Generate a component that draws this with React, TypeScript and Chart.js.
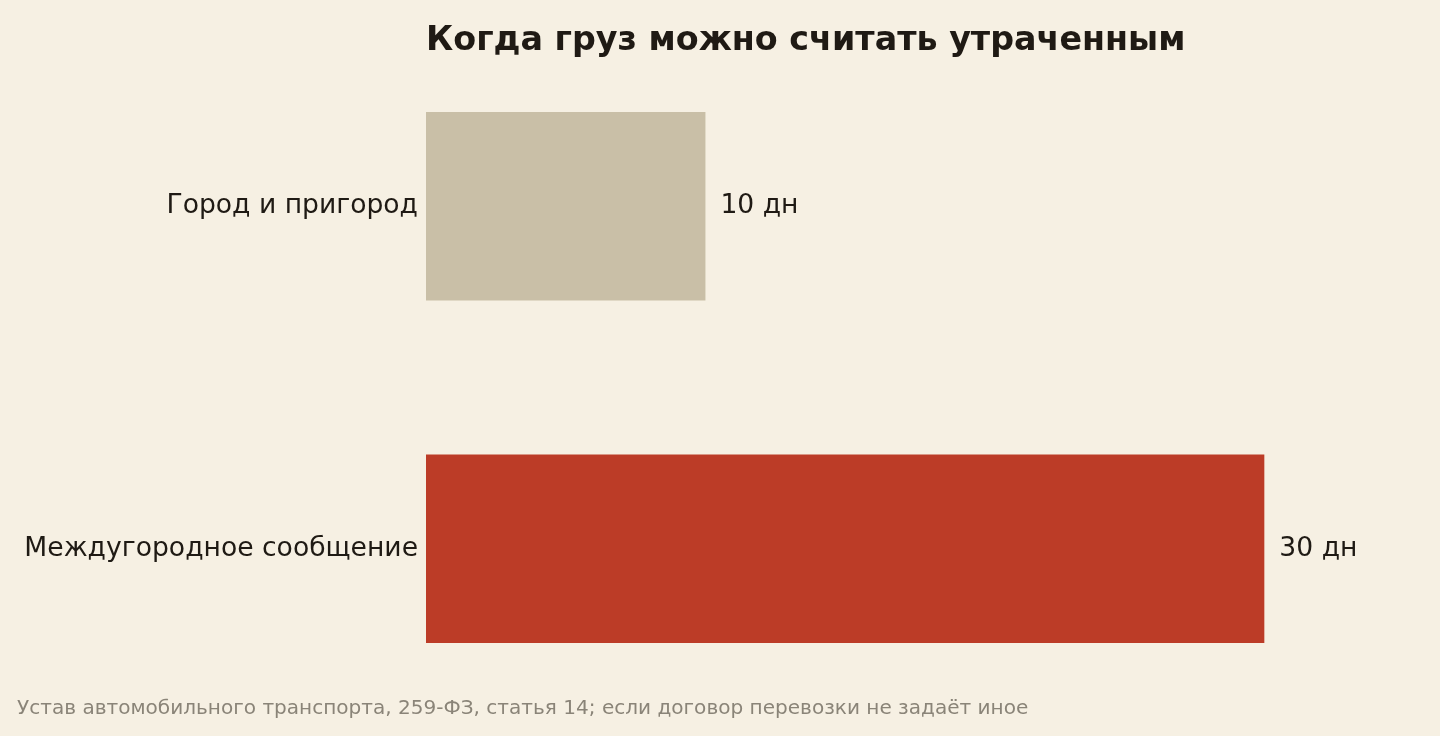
import React, { useEffect, useRef } from "react";
import { Chart, registerables } from "chart.js";

Chart.register(...registerables);

const categories = ["Город и пригород", "Междугородное сообщение"];
const days = [10, 30];
const valueLabels = ["10 дн", "30 дн"];
const barColors = ["#c9bfa7", "#bc3c27"];
const title = "Когда груз можно считать утраченным";
const footnote = "Устав автомобильного транспорта, 259-ФЗ, статья 14; если договор перевозки не задаёт иное";

const FONT = "'DejaVu Sans', sans-serif";
const BG = "#f6f0e3";

const valueLabelPlugin = {
  id: "valueLabels",
  afterDatasetsDraw(chart: any) {
    const ctx = chart.ctx;
    const meta = chart.getDatasetMeta(0);
    ctx.save();
    ctx.font = `26.6px ${FONT}`;
    ctx.fillStyle = "#1f1a14";
    ctx.textAlign = "left";
    ctx.textBaseline = "middle";
    meta.data.forEach((bar: any, i: number) => {
      ctx.fillText(valueLabels[i], bar.x + 15, bar.y);
    });
    ctx.restore();
  },
};

export default function App() {
  const ref = useRef<HTMLCanvasElement>(null);
  useEffect(() => {
    if (!ref.current) return;
    const chart = new Chart(ref.current, {
      type: "bar",
      data: {
        labels: categories,
        datasets: [
          {
            data: days,
            backgroundColor: barColors,
            borderWidth: 0,
            categoryPercentage: 1,
            barPercentage: 0.55,
          },
        ],
      },
      options: {
        indexAxis: "y",
        animation: false,
        responsive: false,
        devicePixelRatio: 1,
        layout: { padding: { top: 35, bottom: 13.5, left: 0, right: 8 } },
        plugins: {
          legend: { display: false },
          tooltip: { enabled: false },
        },
        scales: {
          x: { display: false, min: 0, max: 36 },
          y: {
            grid: { display: false },
            border: { display: false },
            afterFit: (scale: any) => {
              scale.width = 426;
            },
            ticks: {
              padding: 0,
              color: "#1f1a14",
              font: { family: FONT, size: 26.6 },
            },
          },
        },
      },
      plugins: [valueLabelPlugin],
    });
    return () => chart.destroy();
  }, []);

  return (
    <div
      style={{
        position: "fixed",
        left: 0,
        top: 0,
        width: 1440,
        height: 736,
        background: BG,
        fontFamily: FONT,
      }}
    >
      <canvas ref={ref} width={1440} height={736} style={{ position: "absolute", left: 0, top: 0 }} />
      <div
        style={{
          position: "absolute",
          left: 426,
          top: 18,
          fontSize: 33.35,
          fontWeight: "bold",
          color: "#1f1a14",
          lineHeight: "42px",
          whiteSpace: "nowrap",
        }}
      >
        {title}
      </div>
      <div
        style={{
          position: "absolute",
          left: 17,
          top: 695,
          fontSize: 20.06,
          color: "#8a8478",
          lineHeight: "24px",
          whiteSpace: "nowrap",
        }}
      >
        {footnote}
      </div>
    </div>
  );
}
